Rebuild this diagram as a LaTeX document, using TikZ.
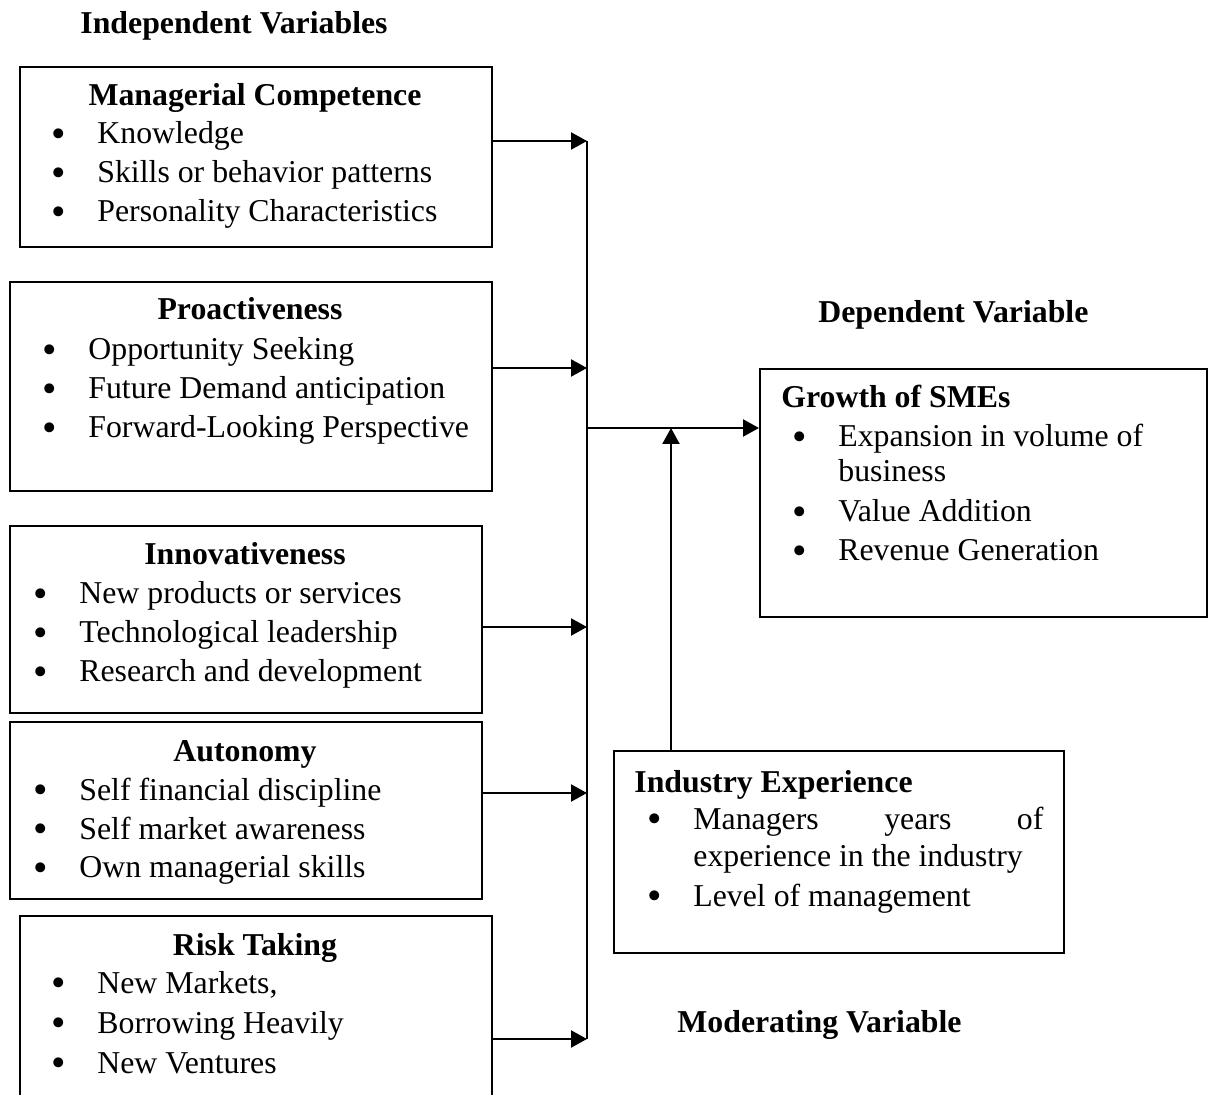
\documentclass[tikz,border=0pt]{standalone}
\usepackage{fontspec}
\setmainfont{Liberation Serif}
\usetikzlibrary{arrows.meta}

\newcommand{\itm}{\llap{\raisebox{-1.6pt}{\scalebox{1.3}{\textbullet}}\hspace{15.5pt}}}
\newcommand{\blist}[1]{\begin{tabular}[t]{@{}l@{}}#1\end{tabular}}

\begin{document}
\begin{tikzpicture}[x=0.5pt, y=-0.5pt, font=\fontsize{15.9}{19.5}\selectfont,
          >={Triangle[length=8pt,width=8.5pt]},
          box/.style={draw, line width=1.1pt, anchor=north west, inner sep=0pt},
          hd/.style={font=\fontsize{15.9}{19.5}\selectfont\bfseries, inner sep=0pt, anchor=base},
          lbl/.style={hd, anchor=base west},
          txt/.style={inner sep=0pt, anchor=base west},
          bus/.style={line width=1.1pt},
          arr/.style={->, line width=1.1pt}]
        \useasboundingbox (0,0) rectangle (1210,1095);
        % headings of the three groups
        \node[lbl] (indep) at (80,34) {Independent Variables};
        \node[lbl] (dep) at (818,323) {Dependent Variable};
        \node[lbl] (moder) at (677,1032) {Moderating Variable};
        % independent variables
        \node[box, minimum width=236pt, minimum height=90pt] (mc) at (19,66) {};
        \node[hd] (mch) at (255,106) {Managerial Competence};
        \node[txt] (mcl) at (97,144) {\blist{\itm Knowledge\\ \itm Skills or behavior patterns\\ \itm Personality Characteristics}};
        \node[box, minimum width=241pt, minimum height=104.5pt] (pro) at (9,281) {};
        \node[hd] (proh) at (250,320) {Proactiveness};
        \node[txt] (prol) at (88,360) {\blist{\itm Opportunity Seeking\\ \itm Future Demand anticipation\\ \itm Forward-Looking Perspective}};
        \node[box, minimum width=236pt, minimum height=93.5pt] (inn) at (9,525) {};
        \node[hd] (innh) at (245,565) {Innovativeness};
        \node[txt] (innl) at (79,604) {\blist{\itm New products or services\\ \itm Technological leadership\\ \itm Research and development}};
        \node[box, minimum width=236pt, minimum height=88.5pt] (aut) at (9,721) {};
        \node[hd] (auth) at (245,762) {Autonomy};
        \node[txt] (autl) at (79,800) {\blist{\itm Self financial discipline\\ \itm Self market awareness\\ \itm Own managerial skills}};
        \node[box, minimum width=236pt, minimum height=92.5pt] (risk) at (19,915) {};
        \node[hd] (riskh) at (255,955) {Risk Taking};
        \node[txt] (riskl) at (97,993) {\blist{\itm New Markets,\\[0.5pt] \itm Borrowing Heavily\\[0.5pt] \itm New Ventures}};
        % dependent variable
        \node[box, minimum width=223.5pt, minimum height=124pt] (gro) at (759,368) {};
        \node[lbl] (groh) at (781,408) {Growth of SMEs};
        \node[txt] (grol) at (838,447) {\blist{\itm Expansion in volume of\\[-2pt] business\\[0.5pt] \itm Value Addition\\ \itm Revenue Generation}};
        % moderating variable
        \node[box, minimum width=225pt, minimum height=101pt] (ind) at (613,750) {};
        \node[lbl] (indh) at (634,792) {Industry Experience};
        \node[txt] (indl) at (693,829) {\blist{\itm\makebox[175pt][s]{Managers years of}\\[-1pt] experience in the industry\\[0.5pt] \itm Level of management}};
        % connectors
        \coordinate (j1) at (587,141);
        \coordinate (j2) at (587,368);
        \coordinate (j3) at (587,627);
        \coordinate (j4) at (587,793);
        \coordinate (j5) at (587,1039);
        \coordinate (jo) at (587,428);
        \coordinate (jm) at (671,428);
        \draw[bus] (j1) -- (j5);
        \draw[arr] (mc.east |- j1) -- (j1);
        \draw[arr] (pro.east |- j2) -- (j2);
        \draw[arr] (inn.east |- j3) -- (j3);
        \draw[arr] (aut.east |- j4) -- (j4);
        \draw[arr] (risk.east |- j5) -- (j5);
        \draw[arr] (jo) -- (gro.west |- jo);
        \draw[arr] (ind.north -| jm) -- (jm);
      \end{tikzpicture}
\end{document}
